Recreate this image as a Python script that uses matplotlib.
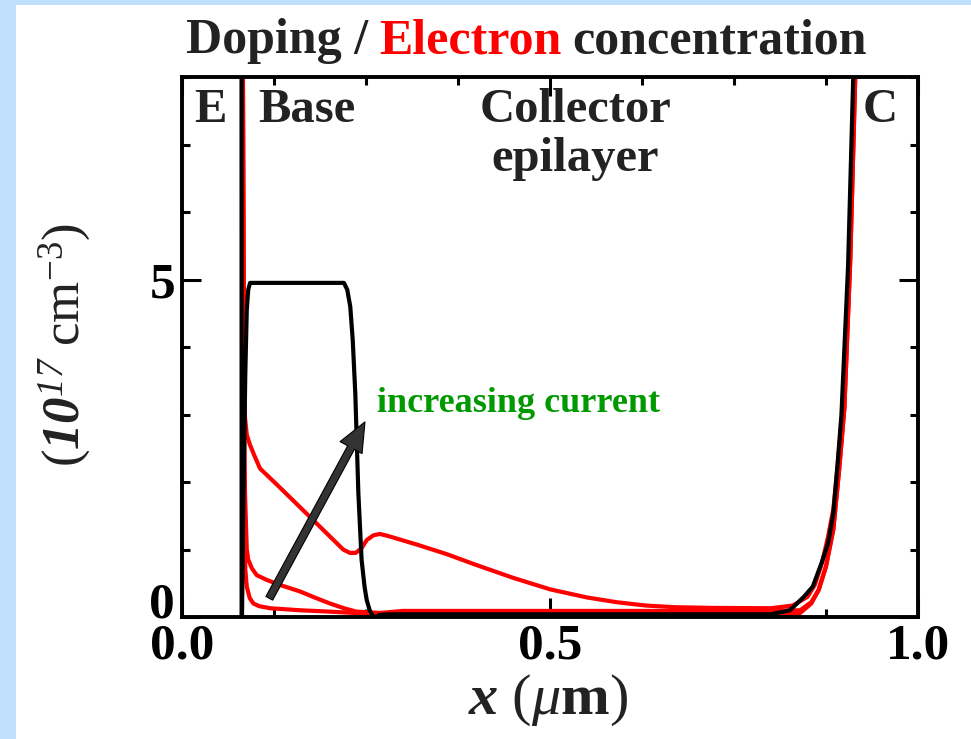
import matplotlib
matplotlib.use('Agg')
import matplotlib.pyplot as plt
from matplotlib.patches import Rectangle
from matplotlib.ticker import MultipleLocator, FixedLocator

plt.rcParams['font.family'] = ['Liberation Serif', 'DejaVu Serif']
plt.rcParams['mathtext.fontset'] = 'custom'
plt.rcParams['mathtext.rm'] = 'Liberation Serif'
plt.rcParams['mathtext.it'] = 'Liberation Serif:italic'
plt.rcParams['mathtext.sf'] = 'Liberation Serif:italic'  # italic digits
plt.rcParams['mathtext.bf'] = 'Liberation Serif:bold'
plt.rcParams['mathtext.bfit'] = 'Liberation Serif:bold:italic'

# doping profile (10^17 cm^-3) vs depth x (um)
doping_x = [0.0, 0.0805, 0.081, 0.0815, 0.0835, 0.086, 0.088, 0.090, 0.0925, 0.22, 0.2245,
            0.2286, 0.232, 0.2355, 0.2396, 0.244, 0.248, 0.251, 0.255, 0.259, 0.263, 0.268,
            0.28, 0.80, 0.826, 0.845, 0.857, 0.869, 0.878, 0.885, 0.891, 0.896, 0.905, 0.912, 0.92]
doping_y = [40, 40, 0.0, 0.0, 1.8, 3.6, 4.55, 4.85, 4.95, 4.95, 4.85,
            4.6, 4.1, 3.3, 1.84, 0.85, 0.45, 0.25, 0.1, 0.02, 0.0, 0.03,
            0.04, 0.04, 0.1, 0.3, 0.45, 0.8, 1.1, 1.54, 2.3, 3.0, 5.2, 8.0, 11]

# electron concentration, three bias currents (high -> low)
elec_hi_x = [0.0, 0.080, 0.0825, 0.0835, 0.0845, 0.0856, 0.088, 0.092, 0.098, 0.106, 0.13,
             0.16, 0.19, 0.219, 0.228, 0.236, 0.244, 0.251, 0.26, 0.269, 0.28, 0.32, 0.36,
             0.40, 0.45, 0.50, 0.55, 0.59, 0.63, 0.67, 0.72, 0.80, 0.83, 0.85, 0.86, 0.87,
             0.878, 0.885, 0.89, 0.897, 0.906, 0.913, 0.92]
elec_hi_y = [40, 40, 9, 5.5, 3.8, 2.95, 2.7, 2.56, 2.4, 2.2, 1.95,
             1.63, 1.31, 1.0, 0.95, 0.95, 1.02, 1.14, 1.21, 1.23, 1.2, 1.07, 0.93,
             0.77, 0.58, 0.41, 0.29, 0.22, 0.17, 0.145, 0.135, 0.13, 0.17, 0.3, 0.48, 0.82,
             1.2, 1.6, 2.15, 3.0, 5.2, 8.0, 11]

elec_mid_x = [0.0, 0.080, 0.0825, 0.0838, 0.0848, 0.0856, 0.088, 0.090, 0.095, 0.1015, 0.115,
              0.133, 0.16, 0.18, 0.201, 0.22, 0.237, 0.269, 0.30, 0.80, 0.84, 0.855, 0.865,
              0.875, 0.885, 0.893, 0.90, 0.908, 0.915, 0.925]
elec_mid_y = [40, 40, 9, 4.5, 2.5, 1.84, 1.0, 0.85, 0.72, 0.62, 0.55,
              0.475, 0.38, 0.29, 0.2, 0.13, 0.08, 0.06, 0.09, 0.09, 0.1, 0.22, 0.4,
              0.75, 1.3, 2.2, 3.1, 5.3, 8.1, 11]

elec_lo_x = [0.0, 0.080, 0.0825, 0.0838, 0.0848, 0.086, 0.088, 0.092, 0.097, 0.105, 0.12,
             0.16, 0.20, 0.25, 0.30, 0.80, 0.84, 0.855, 0.865, 0.875, 0.885, 0.893, 0.90,
             0.908, 0.915, 0.925]
elec_lo_y = [40, 40, 9, 3.5, 1.5, 0.7, 0.45, 0.28, 0.2, 0.16, 0.13,
             0.1, 0.08, 0.05, 0.03, 0.02, 0.06, 0.2, 0.4, 0.75, 1.3, 2.2, 3.1,
             5.3, 8.1, 11]

fig = plt.figure(figsize=(9.71, 7.39), dpi=100, facecolor='#c0e0fe')
fig.patches.append(Rectangle((16 / 971, 0), 1, 734 / 739, transform=fig.transFigure,
                             facecolor='white', edgecolor='none', zorder=-10))

ax = fig.add_axes([182 / 971, 122 / 739, 736 / 971, 540 / 739])
ax.set_facecolor('white')

for xs, ys in [(elec_hi_x, elec_hi_y), (elec_mid_x, elec_mid_y), (elec_lo_x, elec_lo_y)]:
    ax.plot(xs, ys, color='#ff0000', lw=3.0, solid_joinstyle='round', zorder=2)
ax.plot(doping_x, doping_y, color='black', lw=3.0, solid_joinstyle='round', zorder=3)

ax.set_xlim(0, 1.0)
ax.set_ylim(0, 8)

ax.xaxis.set_major_locator(FixedLocator([0.0, 0.5, 1.0]))
ax.xaxis.set_minor_locator(MultipleLocator(0.125))
ax.yaxis.set_major_locator(FixedLocator([0, 5]))
ax.yaxis.set_minor_locator(MultipleLocator(1))
ax.set_xticklabels(['0.0', '0.5', '1.0'])
ax.set_yticklabels(['0', '5'])

ax.tick_params(which='both', direction='in', top=True, right=True, width=2.2, color='black')
ax.tick_params(which='major', length=14, labelsize=37, pad=5)
ax.tick_params(which='minor', length=6)
for lab in ax.get_xticklabels() + ax.get_yticklabels():
    lab.set_fontweight('bold')
ax.get_yticklabels()[0].set_va('baseline')
for sp in ax.spines.values():
    sp.set_linewidth(2.8)

# region labels
lbl = dict(fontsize=35, fontweight='bold', color='#222222', transform=ax.transAxes)
ax.text(0.038, 0.917, 'E', ha='center', va='baseline', **lbl)
ax.text(0.103, 0.917, 'Base', ha='left', va='baseline', **lbl)
ax.text(0.534, 0.917, 'Collector', ha='center', va='baseline', **lbl)
ax.text(0.534, 0.826, 'epilayer', ha='center', va='baseline', **lbl)
ax.text(0.948, 0.917, 'C', ha='center', va='baseline', **lbl)

ax.text(0.265, 0.38, 'increasing current', fontsize=26, fontweight='bold',
        color='#009900', transform=ax.transAxes, ha='left', va='baseline')

ax.annotate('', xy=(0.2486, 2.89), xytext=(0.1186, 0.277),
            arrowprops=dict(width=5.5, headwidth=18, headlength=21, shrink=0.0,
                            fc='#333333', ec='black', lw=0.8), zorder=5)

# title in three colours
t1 = fig.text(186 / 971, 1 - 53 / 739, 'Doping /', fontsize=36, fontweight='bold',
              color='#222222', ha='left', va='baseline')
ann2 = fig.add_artist(plt.Annotation('Electron', xy=(1, 0), xycoords=t1, xytext=(8, 0),
                                     textcoords='offset points', fontsize=36, fontweight='bold',
                                     color='#ff0000', ha='left', va='bottom'))
fig.add_artist(plt.Annotation('concentration', xy=(1, 0), xycoords=ann2, xytext=(8, 0),
                              textcoords='offset points', fontsize=36, fontweight='bold',
                              color='#222222', ha='left', va='bottom'))

fig.text(548 / 971, 1 - 700 / 739, r'$\mathbfit{x}\ (\mathit{\mu}\mathbf{m})$',
         fontsize=42, ha='center', va='center', color='#222222')
fig.text(65 / 971, 1 - 345 / 739, r'$(\mathbfit{10}^{\mathsf{17}}\ \mathrm{cm}^{-3})$',
         fontsize=38, ha='center', va='center', rotation=90, color='#222222')

fig.savefig('out.png', dpi=100, facecolor=fig.get_facecolor())
